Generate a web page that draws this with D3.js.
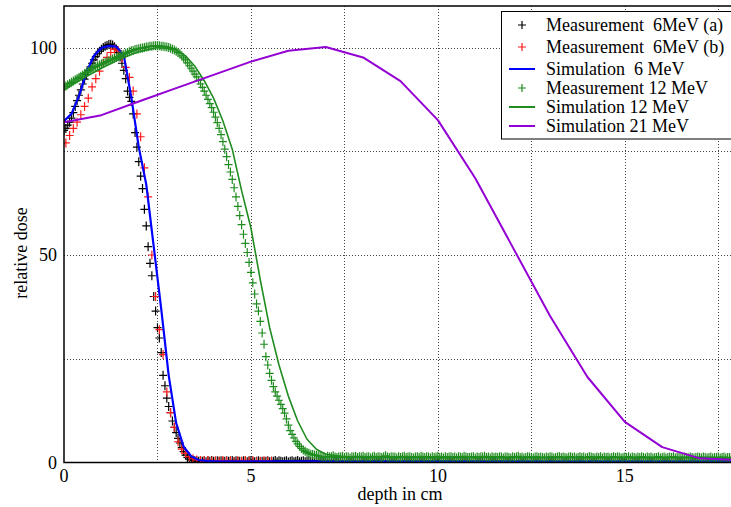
<!DOCTYPE html>
<meta charset="utf-8">
<script src="https://cdn.jsdelivr.net/npm/d3@7"></script>
<style>
  body { margin: 0; background: #fff; }
  svg { display: block; font-family: "Liberation Serif", "Times New Roman", serif; }
</style>
<div id="vis"></div>
<script>
// measured 6 MeV (a): one value every 0.05 cm from 0 to 18 cm
const measA_step = 0.05
const measA = [
  80, 80.5, 81.3, 82, 83, 84.3, 85.8, 87.2, 88.5, 89.8,
  91.2, 92.4, 93.5, 94.5, 95.3, 96.2, 97, 97.8, 98.5, 99.1,
  99.6, 100, 100.3, 100.5, 100.7, 100.8, 100.6, 100.2, 99.6, 98.8,
  97.7, 96.2, 94.5, 92.5, 89.5, 88, 87, 84, 79.5, 76,
  72.5, 69, 66, 61, 57, 52, 48, 45, 40, 36.5,
  32.5, 30, 26.5, 21, 18.5, 15.5, 13.5, 12, 10, 8.5,
  7.2, 5.8, 4.7, 3.6, 2.6, 1.8, 1.2, 0.8, 0.6,
  0.5,0.4,0.4,0.3,0.5,0.3,0.4,0.2,0.4,0.3,0.5,0.3,0.2,0.4,0.3,0.4,0.2,0.3,0.4,0.3,
  0.3,0.5,0.2,0.4,0.3,0.3,0.1,0.4,0.3,0.2,0.4,0.5,0.3,0.2,0.3,0.4,0.2,0.3,0.1,0.3,
  0.4,0.2,0.3,0.3,0.5,0.2,0.4,0.3,0.2,0.3,0.4,0.1,0.3,0.4,0.2,0.3,0.5,0.2,0.3,0.4,
  0.2,0.3,0.4,0.2,0.3,0.1,0.4,0.3,0.2,0.4,0.3,0.2,0.5,0.3,0.2,0.3,0.4,0.2,0.3,0.2,
  0.3,0.4,0.2,0.3,0.2,0.4,0.3,0.1,0.3,0.2,0.4,0.3,0.3,0.2,0.4,0.2,0.3,0.5,0.2,0.3,
  0.2,0.3,0.3,0.4,0.2,0.1,0.3,0.4,0.2,0.3,0.2,0.4,0.3,0.2,0.3,0.1,0.4,0.2,0.3,0.3,
  0.4,0.2,0.3,0.2,0.3,0.4,0.2,0.3,0.1,0.3,0.2,0.4,0.3,0.2,0.2,0.3,0.4,0.1,0.3,0.2,
  0.3,0.2,0.4,0.3,0.2,0.3,0.1,0.2,0.4,0.3,0.2,0.3,0.2,0.4,0.1,0.3,0.2,0.3,0.4,0.2,
  0.2,0.3,0.1,0.3,0.4,0.2,0.3,0.2,0.1,0.3,0.4,0.2,0.3,0.2,0.3,0.1,0.2,0.4,0.3,0.2,
  0.3,0.1,0.2,0.3,0.2,0.4,0.2,0.3,0.2,0.1,0.3,0.2,0.4,0.2,0.3,0.2,0.1,0.3,0.2,0.3,
  0.2,0.3,0.2,0.1,0.3,0.2,0.3,0.4,0.2,0.2,0.1,0.3,0.2,0.3,0.2,0.4,0.1,0.2,0.3,0.2,
  0.1,0.2,0.3,0.2,0.3,0.1,0.2,0.3,0.2,0.4,0.2,0.1,0.3,0.2,0.2,0.3,0.1,0.2,0.3,0.2,
  0.3,0.2,0.1,0.2,0.3,0.2,0.2,0.1,0.3,0.2,0.3,0.2,0.1,0.2,0.4,0.2,0.3,0.1,0.2,0.2,
  0.2,0.1,0.3,0.2,0.2,0.3,0.1,0.2,0.2,0.3,0.2,0.1,0.2,0.3,0.2,0.2,0.1,0.3,0.2,0.2,
  0.1,0.2,0.3,0.2,0.1,0.2,0.2,0.3,0.1,0.2,0.2,0.1
]

// measured 6 MeV (b): one value every 0.1 cm starting at 0.05 cm
const measB_start = 0.05
const measB_step = 0.1
const measB = [
  77, 78.8, 80.5, 82, 83.8, 85.8, 87.8, 90.5, 92.5, 94.3,
  96.2, 97.6, 98.8, 99.6, 99.2, 97.5, 95.2, 92.8, 89.5, 84,
  78.5, 71, 64, 50, 40, 32, 26, 17, 12, 8.5,
  5, 3.2, 2.2, 1.4, 0.9, 0.6, 0.5, 0.4, 0.5, 0.3,
  0.4, 0.3, 0.5, 0.3, 0.4, 0.2, 0.4, 0.3, 0.5, 0.3,
  0.4, 0.2, 0.3, 0.4, 0.3, 0.3
]

// measured 12 MeV: one value every 0.05 cm from 0 to 18 cm
const meas12_step = 0.05
const meas12 = [
  90.5, 90.7, 91, 91.3, 91.6, 91.9, 92.2, 92.5, 92.8, 93.1,
  93.4, 93.7, 94, 94.3, 94.6, 94.9, 95.2, 95.4, 95.6, 95.8,
  96, 96.2, 96.4, 96.6, 96.8, 97, 97.2, 97.4, 97.6, 97.8,
  98, 98.2, 98.4, 98.6, 98.8, 99, 99.2, 99.3, 99.5, 99.6,
  99.7, 99.8, 99.9, 100, 100.1, 100.2, 100.3, 100.3, 100.4, 100.4,
  100.4, 100.4, 100.3, 100.3, 100.2, 100.1, 100, 99.8, 99.6, 99.4,
  99.1, 98.8, 98.5, 98, 97.5, 97, 96.3, 95.6, 95, 94.3,
  93.6, 92.9, 92.1, 91.2, 90.4, 89.5, 88.5, 87.5, 86.5, 85.5,
  84.4, 83.2, 81.9, 80.5, 79, 77.3, 75.5, 73.7, 71.8, 70,
  68.2, 66.2, 64, 61.7, 59.5, 57.3, 55, 52.8, 50.6, 48.2,
  45.8, 43.3, 40.6, 38.2, 36.5, 34, 31.2, 28.5, 25.5, 23.5,
  21.5, 19.8, 18.3, 17, 16, 15, 14, 13, 11.9, 10.5,
  9, 7.7, 6.8, 5.9, 5.1, 4.5, 3.9, 3.4, 3, 2.7,
  2.4, 2.2, 2, 1.9, 1.8, 1.7, 1.6,
  1.5,1.3,1.4,1.2,1.5,1.3,1.4,1.6,1.3,1.2,1.4,1.3,1.5,1.2,1.4,1.3,1.1,1.4,1.3,1.5,
  1.2,1.4,1.3,1.5,1.2,1.3,1.4,1.1,1.3,1.5,1.2,1.4,1.3,1.2,1.4,1.6,1.3,1.2,1.4,1.3,
  1.3,1.1,1.4,1.2,1.3,1.5,1.2,1.3,1.4,1.2,1.1,1.3,1.4,1.2,1.5,1.3,1.2,1.4,1.3,1.1,
  1.4,1.2,1.3,1.5,1.2,1.3,1.1,1.4,1.2,1.3,1.4,1.2,1.3,1.1,1.4,1.3,1.2,1.5,1.3,1.2,
  1.2,1.3,1.4,1.1,1.3,1.2,1.4,1.3,1.5,1.2,1.3,1.1,1.4,1.2,1.3,1.2,1.4,1.3,1.1,1.3,
  1.3,1.2,1.1,1.4,1.2,1.3,1.5,1.2,1.3,1.1,1.2,1.4,1.3,1.2,1.1,1.3,1.4,1.2,1.3,1.2,
  1.1,1.3,1.2,1.4,1.3,1.1,1.2,1.3,1.4,1.2,1.3,1.2,1.1,1.3,1.4,1.2,1.3,1.1,1.2,1.4,
  1.2,1.3,1.1,1.2,1.4,1.3,1.2,1.1,1.3,1.2,1.4,1.1,1.3,1.2,1.3,1.1,1.2,1.4,1.2,1.3,
  1.3,1.1,1.2,1.3,1.2,1.4,1.1,1.3,1.2,1.1,1.3,1.2,1.4,1.2,1.1,1.3,1.2,1.3,1.1,1.2,
  1.2,1.4,1.1,1.2,1.3,1.1,1.2,1.3,1.2,1.4,1.1,1.2,1.3,1.1,1.2,1.3,1.2,1.1,1.3,1.2,
  1.1,1.2,1.3,1.2,1.1,1.3,1.2,1.1,1.2,1.3,1.1,1.2,1.2,1.3,1.1,1.2,1.3,1.1,1.2,1.2,
  1.1,1.3,1.2,1.1
]

// simulations
const sim6_depth = [0, 0.2, 0.4, 0.6, 0.8, 1.0, 1.2, 1.4, 1.6, 1.8, 2.0, 2.2, 2.4, 2.6, 2.8, 3.0, 3.2, 3.4, 3.6, 3.8, 4, 5, 6, 7, 8, 9, 10, 11, 12, 13, 14, 15, 16, 17, 18]
const sim6_dose  = [82.3, 84, 88.3, 94, 98, 99.9, 100.4, 100.2, 98, 88, 76, 67, 52, 37, 21, 9.5, 3.8, 1.5, 0.6, 0.4, 0.3, 0.3, 0.3, 0.3, 0.3, 0.3, 0.3, 0.3, 0.3, 0.3, 0.3, 0.3, 0.3, 0.3, 0.3]

const sim12_depth = [0, 0.5, 1, 1.5, 2, 2.5, 3, 3.25, 3.5, 3.75, 4, 4.25, 4.5, 4.75, 5, 5.25, 5.5, 5.75, 6, 6.25, 6.5, 6.75, 7, 7.5, 8, 9, 10, 11, 12, 13, 14, 15, 16, 17, 18]
const sim12_dose  = [89.8, 92.5, 95, 97.3, 99, 100, 99.5, 98, 95.5, 92, 87.8, 82.3, 75.5, 65.5, 56.5, 44, 32.5, 23.5, 16, 10, 5.6, 3.2, 2, 1.4, 1.2, 1.2, 1.2, 1.2, 1.2, 1.2, 1.2, 1.2, 1.2, 1.2, 1.2]

const sim21_depth = [0, 1, 2, 3, 4, 5, 6, 7, 8, 9, 10, 11, 12, 13, 14, 15, 16, 17, 18]
const sim21_dose  = [82, 83.7, 87, 90.2, 93.4, 96.6, 99.2, 100.1, 97.6, 91.9, 82.5, 68.5, 51.9, 35.3, 20.6, 9.8, 3.7, 1.0, 0.6]

const legendLabels = ["Measurement  6MeV (a)", "Measurement  6MeV (b)", "Simulation  6 MeV",
                      "Measurement 12 MeV", "Simulation 12 MeV", "Simulation 21 MeV"]
const xTicks = [0, 5, 10, 15]
const yTicks = [0, 50, 100]
const xGrid = [2.5, 5, 7.5, 10, 12.5, 15, 17.5]
const yGrid = [25, 50, 75, 100]

const W = 731, H = 507
const plotLeft = 64, plotTop = 6, plotBottom = 462.5, plotRight = 737

const x = d3.scaleLinear().domain([0, 18]).range([plotLeft, plotRight])
const y = d3.scaleLinear().domain([0, 110]).range([plotBottom, plotTop])

const svg = d3.select("#vis").append("svg").attr("width", W).attr("height", H)

svg.append("defs").append("clipPath").attr("id", "plot")
  .append("rect").attr("x", plotLeft).attr("y", plotTop)
  .attr("width", plotRight - plotLeft).attr("height", plotBottom - plotTop)

// grid
const grid = svg.append("g").attr("stroke", "#444").attr("stroke-width", 1).attr("stroke-dasharray", "1,2")
grid.selectAll("line.gx").data(xGrid).enter().append("line")
  .attr("x1", d => Math.round(x(d)) + 0.5).attr("x2", d => Math.round(x(d)) + 0.5)
  .attr("y1", plotTop).attr("y2", plotBottom)
grid.selectAll("line.gy").data(yGrid).enter().append("line")
  .attr("x1", plotLeft).attr("x2", W)
  .attr("y1", d => Math.round(y(d)) + 0.5).attr("y2", d => Math.round(y(d)) + 0.5)

const plot = svg.append("g").attr("clip-path", "url(#plot)")

function crosses(pts, color) {
  plot.append("g").attr("stroke", color).attr("stroke-width", 1.2).attr("fill", "none")
    .selectAll("path").data(pts).enter().append("path")
    .attr("d", d => {
      const px = x(d[0]), py = y(d[1])
      return `M${px - 4},${py}H${px + 4}M${px},${py - 4.5}V${py + 4.5}`
    })
}
function curve(xs, ys, color, w) {
  const line = d3.line().x(d => x(d[0])).y(d => y(d[1]))
  plot.append("path").datum(xs.map((d, i) => [d, ys[i]]))
    .attr("d", line).attr("fill", "none").attr("stroke", color)
    .attr("stroke-width", w).attr("stroke-linejoin", "round")
}

const green = "#1f8c1f"
crosses(measA.map((v, i) => [i * measA_step, v]), "#000")
crosses(measB.map((v, i) => [measB_start + i * measB_step, v]), "#ff1a1a")
curve(sim6_depth, sim6_dose, "#0000ff", 2.2)
crosses(meas12.map((v, i) => [i * meas12_step, v]), green)
curve(sim12_depth, sim12_dose, green, 1.6)
curve(sim21_depth, sim21_dose, "#9400d3", 2)

// tick labels
svg.append("g").attr("font-size", 18).attr("text-anchor", "middle")
  .selectAll("text").data(xTicks).enter().append("text")
  .attr("x", d => x(d)).attr("y", 482).text(d => d)
svg.append("g").attr("font-size", 18).attr("text-anchor", "end")
  .selectAll("text").data(yTicks).enter().append("text")
  .attr("x", 57).attr("y", d => y(d) + 6).text(d => d)

svg.append("text").attr("x", 400).attr("y", 500).attr("text-anchor", "middle")
  .attr("font-size", 18).text("depth in cm")
svg.append("text").attr("transform", "translate(27,253) rotate(-90)")
  .attr("text-anchor", "middle").attr("font-size", 18).text("relative dose")

// legend
const lg = svg.append("g")
lg.append("rect").attr("x", 501.5).attr("y", 11.5).attr("width", 240).attr("height", 127.5)
  .attr("fill", "#fff").attr("stroke", "#000").attr("stroke-width", 1)
const rows = [31, 53, 75, 94, 113, 132]
const kinds = [["m", "#000"], ["m", "#ff1a1a"], ["l", "#0000ff"], ["m", green], ["l", green], ["l", "#9400d3"]]
legendLabels.forEach((t, i) => {
  const cy = rows[i] - 6
  if (kinds[i][0] === "m") {
    lg.append("path").attr("d", `M518,${cy}H526M522,${cy - 4}V${cy + 4}`)
      .attr("stroke", kinds[i][1]).attr("stroke-width", 1.2)
  } else {
    lg.append("line").attr("x1", 509).attr("x2", 535).attr("y1", cy).attr("y2", cy)
      .attr("stroke", kinds[i][1]).attr("stroke-width", 2)
  }
  lg.append("text").attr("x", 546).attr("y", rows[i]).attr("font-size", 18)
    .style("white-space", "pre").text(t)
})

// axes frame
svg.append("rect").attr("x", plotLeft).attr("y", plotTop)
  .attr("width", plotRight - plotLeft + 20).attr("height", plotBottom - plotTop)
  .attr("fill", "none").attr("stroke", "#000").attr("stroke-width", 1.5)
</script>
